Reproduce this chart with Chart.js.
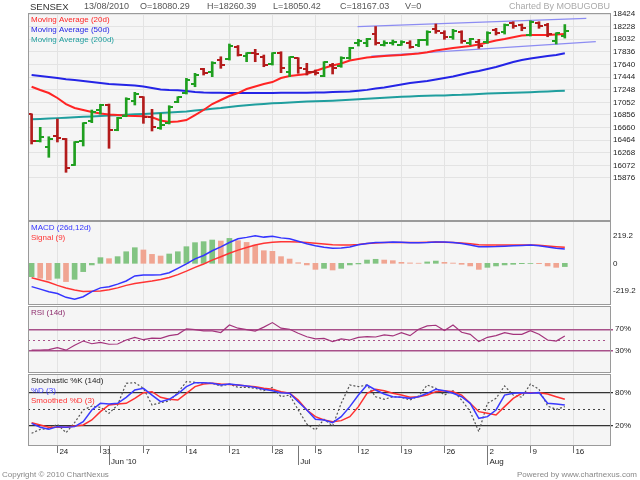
<!DOCTYPE html>
<html>
<head>
<meta charset="utf-8">
<script src="https://cdn.jsdelivr.net/npm/chart.js@4.4.0/dist/chart.umd.min.js"></script>
<style>
  html, body { margin: 0; padding: 0; background: #fff; }
  #wrap { position: relative; width: 640px; height: 480px; overflow: hidden; }
  #wrap canvas { position: absolute; left: 0; top: 0; }
</style>
</head>
<body>
<div id="wrap">
  <canvas id="cPrice" width="640" height="480"></canvas>
  <canvas id="cMacd" width="640" height="480"></canvas>
  <canvas id="cRsi" width="640" height="480"></canvas>
  <canvas id="cStoch" width="640" height="480"></canvas>
</div>
<script>
// header / footer text
const symbol = 'SENSEX';
const sessionDate = '13/08/2010';
const lastVolume = 0;
const brand = 'Charted By MOBUGOBU';
const copyright = 'Copyright \u00a9 2010 ChartNexus';
const poweredBy = 'Powered by www.chartnexus.com';

// trading days 19 May 2010 .. 13 Aug 2010 (index 0..62)
const open = [16870, 16450, 16353, 16528, 16486, 16073, 16455, 16761, 16932, 17010, 16621, 16839, 17077, 17130, 16819, 16648, 16725, 17056, 17192, 17336, 17565, 17527, 17709, 17720, 17907, 17771, 17813, 17760, 17647, 17823, 17527, 17736, 17565, 17527, 17461, 17631, 17616, 17736, 17969, 17978, 18113, 17947, 17969, 17947, 17978, 17942, 18020, 18186, 18133, 18062, 18149, 17978, 17994, 17994, 18175, 18149, 18279, 18253, 18098, 18289, 18253, 18009, 18080.29];
const high = [16872, 16663, 16517, 16792, 16490, 16440, 16735, 16932, 17021, 17025, 16819, 17123, 17207, 17139, 16943, 16881, 16999, 17139, 17425, 17502, 17580, 17683, 17760, 17958, 17935, 17823, 17875, 17787, 17823, 17838, 17760, 17745, 17658, 17554, 17683, 17658, 17760, 17907, 18031, 18046, 18230, 18009, 18020, 18009, 18009, 18031, 18164, 18269, 18164, 18186, 18164, 18046, 18031, 18149, 18202, 18269, 18304, 18269, 18320, 18304, 18279, 18133, 18260.39];
const low = [16404, 16435, 16197, 16435, 15964, 16070, 16373, 16735, 16870, 16337, 16610, 16828, 17010, 16725, 16606, 16632, 16715, 17046, 17181, 17294, 17476, 17450, 17580, 17709, 17771, 17683, 17683, 17605, 17631, 17512, 17450, 17502, 17476, 17476, 17450, 17492, 17596, 17720, 17927, 17916, 17942, 17927, 17942, 17938, 17891, 17916, 17938, 18124, 18031, 18031, 17969, 17942, 17891, 17969, 18098, 18113, 18202, 18164, 18082, 18202, 18071, 17958, 18050.42];
const close = [16455, 16513, 16477, 16497, 16031, 16435, 16730, 16906, 17010, 16621, 16803, 17098, 17181, 16819, 16673, 16699, 16983, 17130, 17398, 17476, 17512, 17667, 17631, 17927, 17787, 17813, 17802, 17631, 17820, 17580, 17751, 17580, 17527, 17502, 17673, 17580, 17736, 17891, 18009, 18031, 17978, 17978, 17994, 17989, 17916, 18020, 18149, 18160, 18062, 18164, 18009, 18031, 17927, 18124, 18133, 18253, 18238, 18202, 18304, 18238, 18113, 18124, 18167.03];

const ma20 = [17294, 17243, 17196, 17119, 17025, 16963, 16932, 16901, 16878, 16862, 16854, 16844, 16839, 16834, 16819, 16769, 16746, 16754, 16777, 16854, 16932, 17025, 17088, 17150, 17196, 17258, 17297, 17336, 17367, 17429, 17461, 17476, 17492, 17538, 17585, 17624, 17655, 17701, 17725, 17748, 17760, 17771, 17779, 17787, 17798, 17810, 17829, 17857, 17875, 17896, 17911, 17927, 17950, 17981, 18012, 18035, 18062, 18090, 18098, 18098, 18098, 18105, 18113];
const ma50 = [17476, 17461, 17445, 17429, 17409, 17398, 17383, 17367, 17352, 17336, 17328, 17321, 17313, 17297, 17274, 17251, 17243, 17238, 17227, 17212, 17204, 17201, 17199, 17198, 17197, 17196, 17196, 17197, 17198, 17199, 17200, 17201, 17202, 17203, 17204, 17212, 17215, 17220, 17232, 17245, 17266, 17282, 17305, 17328, 17352, 17367, 17383, 17406, 17429, 17453, 17484, 17515, 17538, 17569, 17600, 17639, 17678, 17709, 17732, 17751, 17771, 17787, 17813];
const ma200 = [16788, 16794, 16800, 16806, 16813, 16820, 16826, 16832, 16839, 16845, 16851, 16858, 16865, 16871, 16878, 16885, 16892, 16900, 16909, 16923, 16937, 16950, 16963, 16979, 16994, 17006, 17018, 17027, 17036, 17043, 17049, 17057, 17064, 17068, 17072, 17078, 17083, 17090, 17098, 17107, 17116, 17124, 17131, 17137, 17142, 17148, 17153, 17156, 17159, 17164, 17168, 17175, 17181, 17187, 17192, 17196, 17199, 17204, 17209, 17215, 17220, 17226, 17232];

// trend channel (x = trading-day index)
const trendUpper = [{x: 37.9, y: 18227}, {x: 64.5, y: 18357}];
const trendLower = [{x: 39.5, y: 17771}, {x: 65.6, y: 17994}];

const macdLine = [-185, -205, -225, -240, -270, -285, -265, -225, -195, -186, -165, -140, -100, -92, -92, -90, -75, -40, -5, 35, 62, 100, 130, 165, 195, 206, 219, 208, 214, 202, 195, 175, 155, 140, 128, 119, 122, 130, 148, 158, 165, 166, 170, 168, 164, 164, 166, 170, 170, 166, 158, 145, 132, 132, 133, 136, 140, 142, 145, 140, 130, 120, 114];
const signalLine = [-114, -132, -150, -175, -196, -212, -224, -222, -219, -210, -195, -175, -160, -150, -140, -128, -112, -90, -62, -32, -5, 25, 52, 80, 105, 126, 145, 160, 167, 171, 172, 170, 165, 160, 154, 147, 145, 145, 150, 157, 162, 166, 166, 165, 165, 166, 168, 170, 168, 166, 162, 155, 148, 145, 145, 145, 145, 145, 145, 143, 138, 132, 127];
const macdHist = [-106, -119, -132, -119, -145, -127, -66, -13, 45, 37, 53, 92, 124, 106, 71, 58, 74, 92, 132, 164, 172, 185, 177, 198, 180, 166, 145, 100, 95, 53, 34, 5, -13, -48, -40, -53, -40, -13, -5, 26, 32, 26, 21, 8, 3, 1, 11, 18, 8, 2, -8, -21, -48, -32, -21, -13, -8, -3, -1, -3, -21, -32, -26];

const rsi = [31.2, 31.3, 32, 35.5, 31, 40, 48, 43, 45.5, 42, 42.5, 50, 55, 50.5, 53.5, 53, 58, 60.5, 71, 69.5, 67, 67, 64, 78, 72, 69.5, 66.5, 74, 82.5, 72, 70, 62.5, 56, 52, 53, 47, 51.9, 50, 55, 56.3, 55.6, 59.4, 57.5, 63.8, 58.1, 70, 76.3, 77.5, 67.5, 78, 64.4, 60.6, 46.9, 55, 58.1, 63.8, 60.6, 60.6, 67.5, 60.6, 50, 48, 57.5];

const stochK = [5.5, 12.7, 14.5, 21.8, 6.7, 24.8, 47.9, 55, 52.7, 41.8, 57, 96.4, 97.6, 87.3, 57, 61.2, 64.2, 79.4, 99.4, 98.2, 96.4, 96.4, 91.5, 95, 89, 89, 87.3, 83, 89, 72, 75, 48, 22.4, 11.5, 31, 18.8, 60, 93.3, 90.3, 93.3, 72, 67.3, 72, 71, 66, 73.3, 93.3, 87.3, 75, 83, 66, 44.8, 8.5, 60, 69, 91.5, 75, 71, 95, 85.5, 55, 49, 54];
const stochD = [23.6, 16.4, 12.7, 17.6, 16.4, 17.6, 26.7, 47.9, 60, 58.8, 60, 70.9, 84.2, 87.3, 75, 63, 67.3, 77, 90.3, 97.6, 97.6, 96.4, 93.3, 95, 93.3, 91.5, 89, 85.5, 83, 79.4, 78.2, 63, 47.9, 31, 29.7, 24.8, 35.8, 54, 75, 93.3, 84.2, 77, 72, 71, 69, 72, 78.2, 85.5, 83, 78.2, 72, 60, 32.7, 35.8, 47.9, 75, 78.2, 79.4, 78.2, 79.4, 60, 58.8, 57];
const stochSD = [24.8, 20.6, 16.4, 16.4, 16.4, 18.8, 20.6, 29.7, 44.8, 57, 58.8, 60, 69, 79.4, 81.2, 70.9, 67.3, 66, 78.2, 90.3, 95, 96.4, 95, 94, 93.3, 91.5, 90.3, 87.3, 85.5, 81.2, 78.2, 66, 47.9, 35.8, 29.7, 26.7, 28.5, 35.8, 54, 78.2, 85.5, 83, 78.2, 75, 71, 72, 75, 81.2, 83, 81.2, 75, 60, 44.8, 41.8, 38.8, 54, 69, 78.2, 79.4, 79.4, 77, 72, 67.3];

// axis ticks
const weekTickIdx = [3, 8, 13, 18, 23, 28, 33, 38, 43, 48, 53, 58, 63];
const weekTickLabels = ['24', '31', '7', '14', '21', '28', '5', '12', '19', '26', '2', '9', '16'];
const monthTickIdx = [9, 31, 53];
const monthTickLabels = ["Jun '10", 'Jul', 'Aug'];
const priceTicks = [15876, 16072, 16268, 16464, 16660, 16856, 17052, 17248, 17444, 17640, 17836, 18032, 18228, 18424];
const macdTicks = [-219.2, 0, 219.2];
const rsiTicks = [30, 70];
const stochTicks = [20, 80];

const FONT = '"Liberation Sans", Arial, sans-serif';
const BG = '#f5f5f5', GRID = '#e3e3e3', FRAME = '#9a9a9a';
const UP = '#1f9f1f', DOWN = '#b31b1b';

Chart.defaults.font.family = FONT;
Chart.defaults.font.size = 8;
Chart.defaults.color = '#222';
Chart.defaults.animation = false;
Chart.defaults.responsive = false;
Chart.defaults.events = [];
Chart.defaults.plugins.legend.display = false;
Chart.defaults.plugins.tooltip.enabled = false;

const X_MIN = -0.42, X_MAX = 67.37;
const pts = arr => arr.map((v, i) => ({x: i, y: v}));
const isUp = i => close[i] >= open[i];
const bottomTicks = weekTickIdx.concat(monthTickIdx.filter(v => !weekTickIdx.includes(v))).sort((a, b) => a - b);

function xAxis(bottom) {
  return {
    type: 'linear', min: X_MIN, max: X_MAX, offset: false,
    afterBuildTicks: s => { s.ticks = (bottom ? bottomTicks : weekTickIdx).map(v => ({value: v})); },
    afterFit: s => { s.height = bottom ? 34 : 0; },
    border: {display: false},
    grid: {
      offset: false,
      color: c => (c.tick && weekTickIdx.includes(c.tick.value)) ? GRID : 'rgba(0,0,0,0)',
      drawTicks: bottom, tickLength: 7, tickColor: '#777'
    },
    ticks: {
      display: bottom, autoSkip: false, maxRotation: 0, minRotation: 0,
      align: 'start', labelOffset: 2, padding: -7, color: '#222',
      font: {size: 8, lineHeight: 1.35},
      callback: v => {
        const w = weekTickIdx.indexOf(v), m = monthTickIdx.indexOf(v);
        return [w >= 0 ? weekTickLabels[w] : '', m >= 0 ? monthTickLabels[m] : ''];
      }
    }
  };
}

function yAxis(min, max, values, fmt, grid) {
  return {
    position: 'right', min: min, max: max, beginAtZero: false,
    afterBuildTicks: s => { s.ticks = values.map(v => ({value: v})); },
    afterFit: s => { s.width = 29; },
    border: {display: false},
    grid: Object.assign({offset: false, drawTicks: false}, grid),
    ticks: {padding: 2, color: '#222', font: {size: 8}, callback: fmt}
  };
}

const panelFrame = {
  id: 'panelFrame',
  beforeDraw(chart) {
    const {ctx, chartArea: a} = chart;
    ctx.save();
    ctx.fillStyle = BG;
    ctx.fillRect(a.left, a.top, a.right - a.left, a.bottom - a.top);
    ctx.restore();
  },
  afterDraw(chart) {
    const {ctx, chartArea: a} = chart;
    ctx.save();
    ctx.strokeStyle = FRAME;
    ctx.lineWidth = 1;
    ctx.strokeRect(a.left + 0.5, a.top + 0.5, a.right - a.left - 1, a.bottom - a.top - 1);
    ctx.restore();
  }
};

const panelLabels = {
  id: 'panelLabels',
  afterDraw(chart, args, opts) {
    const {ctx, chartArea: a} = chart;
    ctx.save();
    ctx.font = '8px ' + FONT;
    ctx.textBaseline = 'middle';
    ctx.textAlign = 'left';
    (opts.items || []).forEach((it, k) => {
      ctx.fillStyle = it.color;
      ctx.fillText(it.text, a.left + 3, a.top + 7 + k * 9.7);
    });
    ctx.restore();
  }
};

// dotted mid level (50) line of the oscillator panels
const midLine = {
  id: 'midLine',
  beforeDatasetsDraw(chart, args, opts) {
    if (opts.value === undefined) return;
    const {ctx, chartArea: a, scales} = chart;
    const py = Math.round(scales.y.getPixelForValue(opts.value)) + 0.5;
    ctx.save();
    ctx.strokeStyle = opts.color;
    ctx.lineWidth = 1;
    ctx.setLineDash([2, 3]);
    ctx.beginPath();
    ctx.moveTo(a.left, py);
    ctx.lineTo(a.right - 6, py);
    ctx.stroke();
    ctx.restore();
  }
};

// longer tick marks at the first trading day of each month
const monthTicks = {
  id: 'monthTicks',
  afterDraw(chart) {
    const {ctx, chartArea: a, scales} = chart;
    ctx.save();
    ctx.strokeStyle = '#777';
    ctx.lineWidth = 1;
    monthTickIdx.forEach(v => {
      const px = Math.round(scales.x.getPixelForValue(v)) + 0.5;
      ctx.beginPath();
      ctx.moveTo(px, a.bottom + 7);
      ctx.lineTo(px, a.bottom + 19);
      ctx.stroke();
    });
    ctx.restore();
  }
};

const pageText = {
  id: 'pageText',
  afterDraw(chart) {
    const ctx = chart.ctx;
    const n = close.length - 1;
    ctx.save();
    ctx.textBaseline = 'middle';
    ctx.textAlign = 'left';
    ctx.font = '9.5px ' + FONT;
    ctx.fillStyle = '#333';
    ctx.fillText(symbol, 30, 7);
    ctx.font = '9px ' + FONT;
    ctx.fillStyle = '#555';
    [[sessionDate, 84], ['O=' + open[n].toFixed(2), 140], ['H=' + high[n].toFixed(2), 207],
     ['L=' + low[n].toFixed(2), 273], ['C=' + close[n].toFixed(2), 340], ['V=' + lastVolume, 405]]
      .forEach(([t, x]) => ctx.fillText(t, x, 7));
    ctx.textAlign = 'right';
    ctx.fillStyle = '#aaa';
    ctx.fillText(brand, 610, 7);
    ctx.font = '8px ' + FONT;
    ctx.fillStyle = '#888';
    ctx.fillText(poweredBy, 637, 475);
    ctx.textAlign = 'left';
    ctx.fillText(copyright, 2, 475);
    ctx.restore();
  }
};

// open / close tick glyphs for the OHLC bars
function tickGlyph(color, side) {
  const c = document.createElement('canvas');
  c.width = 8; c.height = 2;
  const g = c.getContext('2d');
  g.fillStyle = color;
  g.fillRect(side === 'left' ? 0 : 4, 0, 4, 2);
  return c;
}
const glyphs = {
  upOpen: tickGlyph(UP, 'left'), upClose: tickGlyph(UP, 'right'),
  downOpen: tickGlyph(DOWN, 'left'), downClose: tickGlyph(DOWN, 'right')
};

new Chart(document.getElementById('cPrice'), {
  type: 'line',
  data: {
    datasets: [
      {data: pts(open), showLine: false, pointRadius: 2, borderWidth: 0,
       pointStyle: c => isUp(c.dataIndex) ? glyphs.upOpen : glyphs.downOpen},
      {data: pts(close), showLine: false, pointRadius: 2, borderWidth: 0,
       pointStyle: c => isUp(c.dataIndex) ? glyphs.upClose : glyphs.downClose},
      {type: 'bar', data: open.map((_, i) => ({x: i, y: [low[i], high[i]]})),
       backgroundColor: c => isUp(c.dataIndex) ? UP : DOWN, barThickness: 2, grouped: false},
      {label: 'Moving Average (20d)', data: pts(ma20), borderColor: '#ff2424', borderWidth: 2, pointRadius: 0},
      {label: 'Moving Average (50d)', data: pts(ma50), borderColor: '#2424e6', borderWidth: 2, pointRadius: 0},
      {label: 'Moving Average (200d)', data: pts(ma200), borderColor: '#1f9e9e', borderWidth: 2, pointRadius: 0},
      {data: trendUpper, borderColor: '#8c8cf2', borderWidth: 1.2, pointRadius: 0},
      {data: trendLower, borderColor: '#8c8cf2', borderWidth: 1.2, pointRadius: 0}
    ]
  },
  options: {
    layout: {padding: {left: 28, top: 13, right: 0, bottom: 480 - 221}},
    scales: {
      x: xAxis(false),
      y: yAxis(15207, 18440, priceTicks, v => String(v), {color: GRID})
    },
    plugins: {
      panelLabels: {items: [
        {text: 'Moving Average (20d)', color: '#ff2424'},
        {text: 'Moving Average (50d)', color: '#2424e6'},
        {text: 'Moving Average (200d)', color: '#1f9e9e'}
      ]}
    }
  },
  plugins: [panelFrame, panelLabels, pageText]
});

new Chart(document.getElementById('cMacd'), {
  type: 'line',
  data: {
    datasets: [
      {data: pts(macdLine), borderColor: '#3434ff', borderWidth: 1.5, pointRadius: 0},
      {data: pts(signalLine), borderColor: '#ff3434', borderWidth: 1.5, pointRadius: 0},
      {type: 'bar', data: pts(macdHist), barThickness: 5, grouped: false,
       backgroundColor: c => (c.dataIndex > 0 && macdHist[c.dataIndex] < macdHist[c.dataIndex - 1]) ? '#f0a592' : '#82c482'}
    ]
  },
  options: {
    layout: {padding: {left: 28, top: 221, right: 0, bottom: 480 - 305}},
    scales: {
      x: xAxis(false),
      y: yAxis(-331, 336, macdTicks, v => String(v), {display: false})
    },
    plugins: {
      panelLabels: {items: [
        {text: 'MACD (26d,12d)', color: '#3434ff'},
        {text: 'Signal (9)', color: '#ff3434'}
      ]}
    }
  },
  plugins: [panelFrame, panelLabels]
});

new Chart(document.getElementById('cRsi'), {
  type: 'line',
  data: {
    datasets: [
      {data: pts(rsi), borderColor: '#a3347c', borderWidth: 1.2, pointRadius: 0}
    ]
  },
  options: {
    layout: {padding: {left: 28, top: 306, right: 0, bottom: 480 - 373}},
    scales: {
      x: xAxis(false),
      y: yAxis(-11.7, 113.5, rsiTicks, v => v + '%',
        {color: '#a8508a', lineWidth: 1.5, drawTicks: true, tickLength: 2, tickColor: '#a8508a'})
    },
    plugins: {
      panelLabels: {items: [{text: 'RSI (14d)', color: '#903070'}]},
      midLine: {value: 50, color: '#a8508a'}
    }
  },
  plugins: [panelFrame, panelLabels, midLine]
});

new Chart(document.getElementById('cStoch'), {
  type: 'line',
  data: {
    datasets: [
      {data: pts(stochD), borderColor: '#3a3aff', borderWidth: 1.5, pointRadius: 0},
      {data: pts(stochSD), borderColor: '#ff3030', borderWidth: 1.5, pointRadius: 0},
      {data: pts(stochK), borderColor: '#555', borderWidth: 1.2, borderDash: [2, 2], pointRadius: 0}
    ]
  },
  options: {
    layout: {padding: {left: 28, top: 374, right: 0, bottom: 0}},
    scales: {
      x: xAxis(true),
      y: yAxis(-17.6, 113.3, stochTicks, v => v + '%',
        {color: '#333', lineWidth: 1.2, drawTicks: true, tickLength: 2, tickColor: '#333'})
    },
    plugins: {
      panelLabels: {items: [
        {text: 'Stochastic %K (14d)', color: '#222'},
        {text: '%D (3)', color: '#3a3aff'},
        {text: 'Smoothed %D (3)', color: '#ff3030'}
      ]},
      midLine: {value: 50, color: '#444'}
    }
  },
  plugins: [panelFrame, panelLabels, midLine, monthTicks]
});
</script>
</body>
</html>
